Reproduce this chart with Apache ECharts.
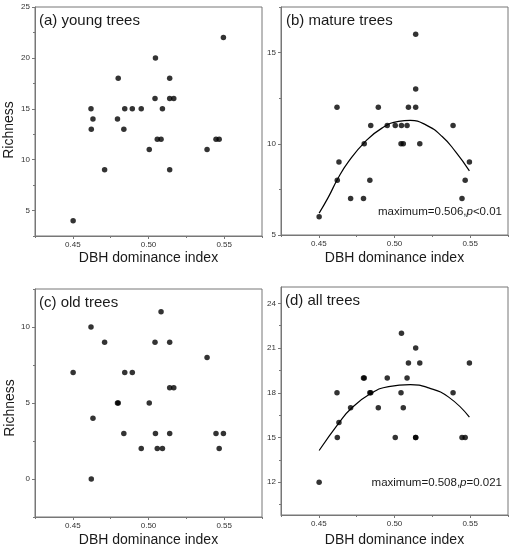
<!DOCTYPE html>
<html>
<head>
<meta charset="utf-8">
<script src="https://cdn.jsdelivr.net/npm/echarts@6/dist/echarts.min.js"></script>
<style>
html, body { margin: 0; padding: 0; background: #fff; }
#chart { width: 514px; height: 550px; }
</style>
</head>
<body>
<div id="chart"></div>
<script>
// DBH dominance index per plot (shared by all four panels)
var dbh = [0.4502, 0.4620, 0.4622, 0.4633, 0.4710, 0.4795, 0.4800, 0.4837, 0.4843, 0.4893,
           0.4952, 0.5005, 0.5043, 0.5046, 0.5058, 0.5083, 0.5092, 0.5140, 0.5140, 0.5140,
           0.5167, 0.5387, 0.5446, 0.5467, 0.5495];
// species richness
var young  = [4, 15, 13, 14, 9, 14, 18, 13, 15, 15, 15, 11, 16, 20, 12, 12, 15, 18, 16, 9, 16, 11, 12, 12, 22];
var mature = [6, 12, 8, 9, 7, 7, 10, 8, 11, 12, 11, 11, 10, 11, 10, 11, 12, 16, 13, 12, 10, 11, 7, 8, 9];
var old    = [7, 10, 0, 4, 9, 5, 5, 3, 7, 7, 2, 5, 9, 3, 2, 11, 2, 9, 6, 3, 6, 8, 3, 2, 3];
var all    = [12, 18, 15, 16, 17, 19, 19, 18, 18, 17, 19, 15, 18, 22, 17, 19, 20, 21, 15, 15, 20, 18, 15, 15, 20];

// fitted curves
var fitMatureX = [0.4502, 0.4564, 0.4626, 0.4696, 0.4807, 0.4917, 0.5027, 0.5105, 0.5204, 0.5315, 0.5403, 0.5495];
var fitMatureY = [6.2, 7.09, 8.1, 9.02, 10.12, 10.86, 11.23, 11.28, 11.05, 10.4, 9.57, 8.52];
var fitAllX = [0.4502, 0.4634, 0.4712, 0.4840, 0.4961, 0.5105, 0.5226, 0.5358, 0.5495];
var fitAllY = [14.13, 16.0, 16.93, 17.93, 18.42, 18.55, 18.33, 17.71, 16.37];

// ticks
var xMajor = [0.45, 0.50, 0.55];
var xMinor = [0.425, 0.475, 0.525, 0.575];
var yMajorYoung = [5, 10, 15, 20, 25],  yMinorYoung = [2.5, 7.5, 12.5, 17.5, 22.5];
var yMajorMature = [5, 10, 15],         yMinorMature = [7.5, 12.5, 17.5];
var yMajorOld = [0, 5, 10],             yMinorOld = [-2.5, 2.5, 7.5, 12.5];
var yMajorAll = [12, 15, 18, 21, 24],   yMinorAll = [10.5, 13.5, 16.5, 19.5, 22.5];

var FONT = 'Arial, "Liberation Sans", sans-serif';
var AX = '#777';
var TXT = '#1a1a1a';

function zip(xs, ys) {
    return xs.map(function (x, i) { return [x, ys[i]]; });
}

var panels = [
    { left: 35,  top: 7,   height: 229, yMin: 2.5,  yMax: 25,   major: yMajorYoung,  minor: yMinorYoung,  gap: 15, ys: young },
    { left: 281, top: 7,   height: 228, yMin: 5,    yMax: 17.5, major: yMajorMature, minor: yMinorMature, gap: 16, ys: mature },
    { left: 35,  top: 289, height: 228, yMin: -2.5, yMax: 12.5, major: yMajorOld,    minor: yMinorOld,    gap: 16, ys: old },
    { left: 281, top: 287, height: 228, yMin: 9.8,  yMax: 25.1, major: yMajorAll,    minor: yMinorAll,    gap: 18, ys: all }
];

var grids = [], xAxes = [], yAxes = [], series = [];

panels.forEach(function (p, i) {
    grids.push({
        left: p.left, top: p.top, width: 227, height: p.height,
        show: true, borderColor: AX, borderWidth: 1, backgroundColor: 'transparent'
    });
    // main x axis
    xAxes.push({
        type: 'value', gridIndex: i, position: 'bottom', min: 0.425, max: 0.575,
        axisLine: { show: true, onZero: false, lineStyle: { color: AX, width: 1 } },
        axisTick: { show: true, length: 3, customValues: xMajor, lineStyle: { color: AX } },
        axisLabel: { customValues: xMajor, fontSize: 8, color: '#333', margin: 5,
                     formatter: function (v) { return v.toFixed(2); } },
        splitLine: { show: false },
        name: 'DBH dominance index', nameLocation: 'middle', nameGap: p.gap,
        nameTextStyle: { fontSize: 14, color: TXT, fontFamily: FONT }
    });
    // minor x ticks
    xAxes.push({
        type: 'value', gridIndex: i, position: 'bottom', min: 0.425, max: 0.575,
        axisLine: { show: false, onZero: false },
        axisTick: { show: true, length: 2, customValues: xMinor, lineStyle: { color: AX } },
        axisLabel: { show: false },
        splitLine: { show: false }
    });
    yAxes.push({
        type: 'value', gridIndex: i, position: 'left', min: p.yMin, max: p.yMax,
        axisLine: { show: true, onZero: false, lineStyle: { color: AX, width: 1 } },
        axisTick: { show: true, length: 3, customValues: p.major, lineStyle: { color: AX } },
        axisLabel: { customValues: p.major, fontSize: 8, color: '#333', margin: 5 },
        splitLine: { show: false }
    });
    yAxes.push({
        type: 'value', gridIndex: i, position: 'left', min: p.yMin, max: p.yMax,
        axisLine: { show: false, onZero: false },
        axisTick: { show: true, length: 2, customValues: p.minor, lineStyle: { color: AX } },
        axisLabel: { show: false },
        splitLine: { show: false }
    });
    series.push({
        type: 'scatter', xAxisIndex: i * 2, yAxisIndex: i * 2,
        data: zip(dbh, p.ys), symbolSize: 5.5,
        itemStyle: { color: '#000' }, silent: true
    });
});

series.push({
    type: 'line', xAxisIndex: 2, yAxisIndex: 2, data: zip(fitMatureX, fitMatureY),
    smooth: true, symbol: 'none', lineStyle: { color: '#000', width: 1.2 }, silent: true
});
series.push({
    type: 'line', xAxisIndex: 6, yAxisIndex: 6, data: zip(fitAllX, fitAllY),
    smooth: true, symbol: 'none', lineStyle: { color: '#000', width: 1.2 }, silent: true
});

var titleStyle = { fontSize: 15, fontWeight: 'normal', color: TXT, fontFamily: FONT };
var noteRich = {
    n: { fontSize: 11.5, fontWeight: 'normal', color: TXT, fontFamily: FONT },
    i: { fontSize: 11.5, fontWeight: 'normal', color: TXT, fontFamily: FONT, fontStyle: 'italic' }
};

var chart = echarts.init(document.getElementById('chart'), null, { renderer: 'canvas' });
chart.setOption({
    animation: false,
    backgroundColor: '#fff',
    textStyle: { fontFamily: FONT },
    title: [
        { text: '(a) young trees',  left: 39,  top: 13,  padding: 0, textStyle: titleStyle },
        { text: '(b) mature trees', left: 286, top: 13,  padding: 0, textStyle: titleStyle },
        { text: '(c) old trees',    left: 39,  top: 295, padding: 0, textStyle: titleStyle },
        { text: '(d) all trees',    left: 285, top: 293, padding: 0, textStyle: titleStyle },
        { text: '{n|maximum=0.506,}{i|p}{n|<0.01}', right: 12, top: 206, padding: 0,
          textStyle: { fontWeight: 'normal', rich: noteRich } },
        { text: '{n|maximum=0.508,}{i|p}{n|=0.021}', right: 12, top: 477, padding: 0,
          textStyle: { fontWeight: 'normal', rich: noteRich } }
    ],
    graphic: [
        { type: 'text', x: 9, y: 130, rotation: Math.PI / 2,
          style: { text: 'Richness', fontSize: 14, fontFamily: FONT, fill: TXT, align: 'center', verticalAlign: 'middle' } },
        { type: 'text', x: 10, y: 408, rotation: Math.PI / 2,
          style: { text: 'Richness', fontSize: 14, fontFamily: FONT, fill: TXT, align: 'center', verticalAlign: 'middle' } }
    ],
    grid: grids,
    xAxis: xAxes,
    yAxis: yAxes,
    series: series
});
</script>
</body>
</html>
